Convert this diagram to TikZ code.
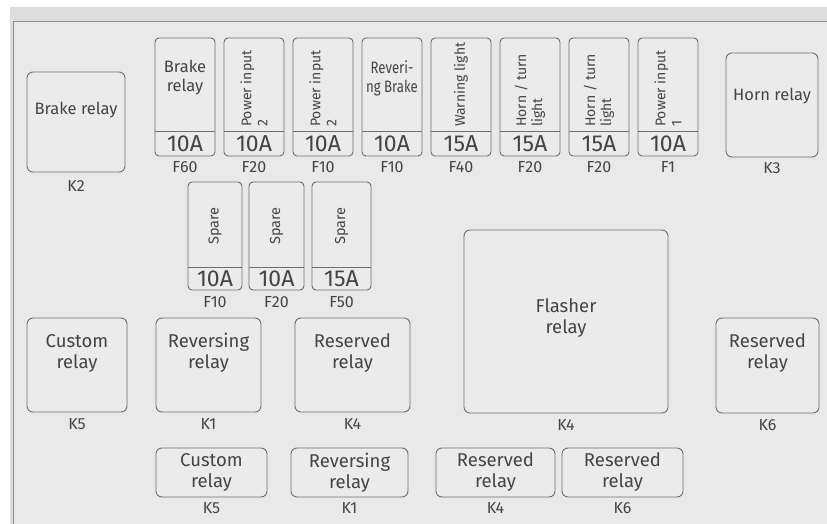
\documentclass[tikz,border=0pt]{standalone}
\usepackage{fontspec}
\setmainfont{Fira Sans}
\newfontfamily\condfont[FakeStretch=0.8]{Fira Sans}
\usetikzlibrary{positioning}
\definecolor{band}{HTML}{DDDDDD}
\definecolor{panel}{HTML}{E9E9E9}
\definecolor{boxfill}{HTML}{EBEBEB}
\definecolor{edge}{HTML}{6E6E6E}
\definecolor{ink}{HTML}{444444}

\begin{document}
\begin{tikzpicture}[x=1pt, y=1pt, node distance=9pt, text=ink,
  fuse/.style={draw=edge, fill=boxfill, rounded corners=4pt, line width=0.9pt, minimum width=60pt, minimum height=118pt, inner sep=0pt, outer sep=0pt},
  amp/.style={minimum width=60pt, minimum height=25pt, inner sep=0pt, outer sep=0pt, font=\fontsize{23}{23}\selectfont},
  relay/.style={draw=edge, fill=boxfill, rounded corners=6pt, line width=0.9pt, inner sep=0pt, outer sep=0pt},
  rtext/.style={align=center, inner sep=0pt, font=\fontsize{18.5}{21}\selectfont},
  htext/.style={align=center, inner sep=0pt, font=\fontsize{16.5}{19}\selectfont},
  vtext/.style={rotate=90, anchor=west, align=left, inner sep=0pt, font=\fontsize{14}{16}\selectfont},
  tag/.style={inner sep=0pt, font=\fontsize{16}{16}\selectfont},
  divider/.style={draw=edge, line width=0.9pt}]
\useasboundingbox (0,0) rectangle (827,-524);
\fill[white] (0,0) rectangle (827,-524);
\fill[band] (10,-7) rectangle (827,-524);
\fill[panel] (13,-21) rectangle (827,-524);
\draw[edge!80, line width=1.6pt] (13.5,-524) -- (13.5,-21.5) -- (827,-21.5);

% top row of fuses
\node[fuse] (f60) at (185,-97) {};
\node[fuse, right=of f60] (f20a) {};
\node[fuse, right=of f20a] (f10a) {};
\node[fuse, right=of f10a] (f10b) {};
\node[fuse, right=of f10b] (f40) {};
\node[fuse, right=of f40] (f20b) {};
\node[fuse, right=of f20b] (f20c) {};
\node[fuse, right=of f20c] (f1) {};

\node[amp, above=0pt of f60.south] (a60) {10A};
\node[amp, above=0pt of f20a.south] (a20a) {10A};
\node[amp, above=0pt of f10a.south] (a10a) {10A};
\node[amp, above=0pt of f10b.south] (a10b) {10A};
\node[amp, above=0pt of f40.south] (a40) {15A};
\node[amp, above=0pt of f20b.south] (a20b) {15A};
\node[amp, above=0pt of f20c.south] (a20c) {15A};
\node[amp, above=0pt of f1.south] (a1) {10A};
\foreach \a in {a60,a20a,a10a,a10b,a40,a20b,a20c,a1}
  \draw[divider] (\a.north west) -- (\a.north east);

\node[htext] (t60) at ([yshift=-40pt]f60.north) {Brake\\relay};
\node[vtext] (t20a) at ([yshift=4pt]a20a.north) {Power input\\2};
\node[vtext] (t10a) at ([yshift=4pt]a10a.north) {Power input\\2};
\node[htext, font=\condfont\fontsize{16.5}{19}\selectfont] (t10b) at ([yshift=-40pt]f10b.north) {Reveri-\\ng Brake};
\node[vtext] (t40) at ([yshift=4pt]a40.north) {Warning light};
\node[vtext] (t20b) at ([yshift=4pt]a20b.north) {Horn / turn\\light};
\node[vtext] (t20c) at ([yshift=4pt]a20c.north) {Horn / turn\\light};
\node[vtext] (t1) at ([yshift=4pt]a1.north) {Power input\\1};

\node[tag, below=5pt of f60] (l60) {F60};
\node[tag, below=5pt of f20a] (l20a) {F20};
\node[tag, below=5pt of f10a] (l10a) {F10};
\node[tag, below=5pt of f10b] (l10b) {F10};
\node[tag, below=5pt of f40] (l40) {F40};
\node[tag, below=5pt of f20b] (l20b) {F20};
\node[tag, below=5pt of f20c] (l20c) {F20};
\node[tag, below=5pt of f1] (l1) {F1};

% spare fuses
\node[fuse, minimum width=54pt, minimum height=108pt] (s10) at (215,-236) {};
\node[fuse, minimum width=55pt, minimum height=108pt] (s20) at (276.5,-236) {};
\node[fuse, minimum width=59pt, minimum height=108pt] (s50) at (341.5,-236) {};
\node[amp, minimum width=54pt, minimum height=23pt, above=0pt of s10.south] (as10) {10A};
\node[amp, minimum width=55pt, minimum height=23pt, above=0pt of s20.south] (as20) {10A};
\node[amp, minimum width=59pt, minimum height=23pt, above=0pt of s50.south] (as50) {15A};
\foreach \a in {as10,as20,as50}
  \draw[divider] (\a.north west) -- (\a.north east);
\node[vtext, anchor=center, font=\fontsize{14.5}{14.5}\selectfont] (ts10) at ([yshift=10pt]s10.center) {Spare};
\node[vtext, anchor=center, font=\fontsize{14.5}{14.5}\selectfont] (ts20) at ([yshift=10pt]s20.center) {Spare};
\node[vtext, anchor=center, font=\fontsize{14.5}{14.5}\selectfont] (ts50) at ([yshift=10pt]s50.center) {Spare};
\node[tag, below=6pt of s10] (ls10) {F10};
\node[tag, below=6pt of s20] (ls20) {F20};
\node[tag, below=6pt of s50] (ls50) {F50};

% relays
\node[relay, minimum width=98pt, minimum height=100pt] (k2) at (76,-122) {};
\node[htext] (k2t) at ([yshift=12pt]k2.center) {Brake relay};
\node[tag, below=8pt of k2] (k2l) {K2};

\node[relay, minimum width=92pt, minimum height=104pt] (k3) at (772,-105) {};
\node[htext] (k3t) at ([yshift=9pt]k3.center) {Horn relay};
\node[tag, below=5pt of k3] (k3l) {K3};

\node[relay, minimum width=100pt, minimum height=94pt] (k5) at (77,-365) {};
\node[rtext] (k5t) at ([yshift=12pt]k5.center) {Custom\\relay};
\node[tag, below=6pt of k5] (k5l) {K5};

\node[relay, minimum width=105pt, minimum height=94pt] (k1) at (208.5,-365) {};
\node[rtext] (k1t) at ([yshift=12pt]k1.center) {Reversing\\relay};
\node[tag, below=6pt of k1] (k1l) {K1};

\node[relay, minimum width=115pt, minimum height=94pt] (k4) at (352.5,-365) {};
\node[rtext] (k4t) at ([yshift=12pt]k4.center) {Reserved\\relay};
\node[tag, below=6pt of k4] (k4l) {K4};

\node[relay, minimum width=204pt, minimum height=183pt] (fl) at (566,-321.5) {};
\node[rtext] (flt) at ([yshift=3pt]fl.center) {Flasher\\relay};
\node[tag, below=6pt of fl] (fll) {K4};

\node[relay, minimum width=103pt, minimum height=95pt] (k6) at (767.5,-365.5) {};
\node[rtext] (k6t) at ([yshift=12pt]k6.center) {Reserved\\relay};
\node[tag, below=6pt of k6] (k6l) {K6};

% bottom row
\node[relay, minimum width=111pt, minimum height=49pt] (b5) at (211.5,-472.5) {};
\node[rtext] (b5t) at (b5.center) {Custom\\relay};
\node[tag, below=5pt of b5] (b5l) {K5};

\node[relay, minimum width=117pt, minimum height=49pt] (b1) at (349.5,-472.5) {};
\node[rtext] (b1t) at (b1.center) {Reversing\\relay};
\node[tag, below=5pt of b1] (b1l) {K1};

\node[relay, minimum width=119pt, minimum height=49pt] (b4) at (495.5,-472.5) {};
\node[rtext] (b4t) at (b4.center) {Reserved\\relay};
\node[tag, below=5pt of b4] (b4l) {K4};

\node[relay, minimum width=121pt, minimum height=49pt] (b6) at (622.5,-472.5) {};
\node[rtext] (b6t) at (b6.center) {Reserved\\relay};
\node[tag, below=5pt of b6] (b6l) {K6};
\end{tikzpicture}
\end{document}
